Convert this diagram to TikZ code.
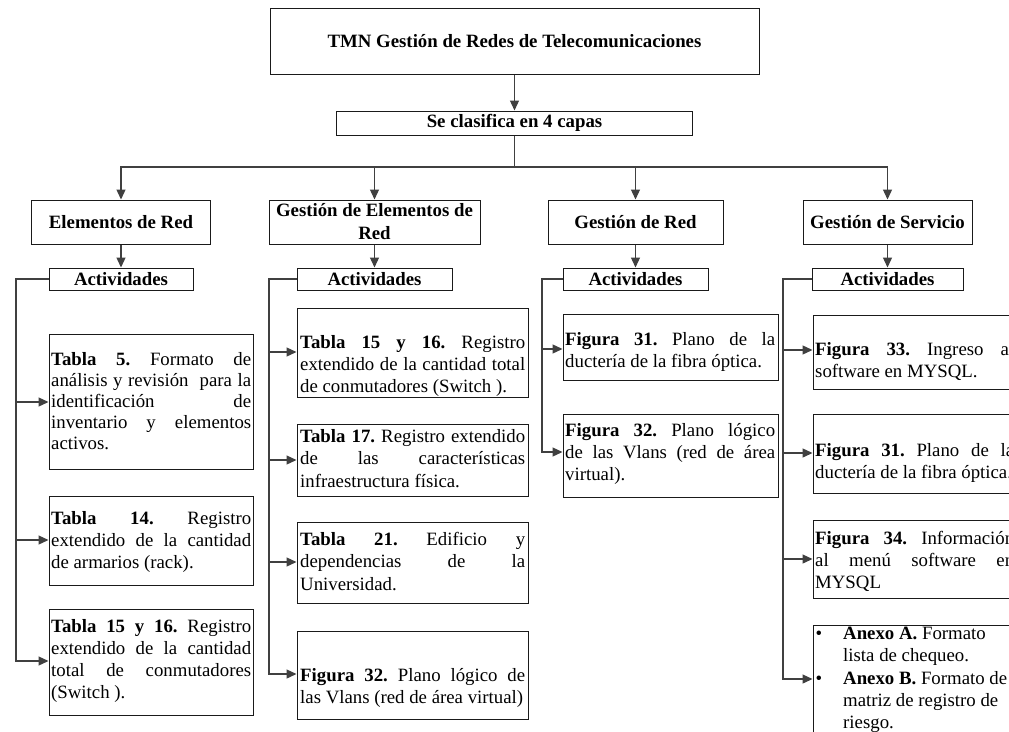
\documentclass[tikz,border=0pt]{standalone}
\usepackage{fontspec}
\setmainfont{Liberation Serif}
\usetikzlibrary{arrows.meta}

\definecolor{linkgray}{HTML}{404040}
\definecolor{edgeblack}{HTML}{1A1A1A}

% empty framed box given by its corners (x1,y1) and (x2,y2)
\newcommand\boxat[5]{%
  \node[box, minimum width={(#4-#2)*1pt}, minimum height={(#5-#3)*1pt}]
    (#1) at ({(#2+#4)/2},{(#3+#5)/2}) {};}
% normal, stretchable interword spaces inside a text block
\newcommand\np{\spaceskip=0pt\xspaceskip=0pt\relax}
% one fully justified line inside a text block
\newcommand\jl[1]{\makebox[\linewidth][s]{\np #1}\\}

\tikzset{
  box/.style={draw=edgeblack, line width=1pt, rectangle, inner sep=0pt},
  head/.style={box, font=\bfseries\fontsize{18.8}{23}\selectfont},
  txt/.style={anchor=base west, inner sep=0pt,
    font=\frenchspacing\fontsize{18.8}{22}\selectfont},
  line/.style={draw=linkgray, line width=1.3pt},
  conn/.style={line, -{Triangle[length=10pt,width=9pt]}},
}

\begin{document}
\begin{tikzpicture}[x=1pt,y=-1pt]
\useasboundingbox (0,0) rectangle (1009,731);
\fill[white] (0,0) rectangle (1009,731);
\clip (0,0) rectangle (1009,731);

% ---- top of the tree
\node[head, minimum width=489pt, minimum height=66pt] (top) at (514.5,41)
  {TMN Gestión de Redes de Telecomunicaciones};
\node[head, minimum width=356pt, minimum height=24pt] (se) at (514.5,123)
  {Se clasifica en 4 capas};

% ---- the four layers
\node[head, minimum width=179pt, minimum height=44pt] (l1) at (121,222) {Elementos de Red};
\node[head, minimum width=211pt, minimum height=44pt, text width=205pt]
  (l2) at (374.5,222) {\np\centering Gestión de Elementos de\\Red\par};
\node[head, minimum width=175pt, minimum height=44pt] (l3) at (635.5,222) {Gestión de Red};
\node[head, minimum width=169pt, minimum height=44pt] (l4) at (887.5,222) {Gestión de Servicio};

\node[head, minimum width=144pt, minimum height=22pt] (a1) at (121,279) {Actividades};
\node[head, minimum width=155pt, minimum height=22pt] (a2) at (374.5,279) {Actividades};
\node[head, minimum width=145pt, minimum height=22pt] (a3) at (635.5,279) {Actividades};
\node[head, minimum width=151pt, minimum height=22pt] (a4) at (887.5,279) {Actividades};

% ---- activity boxes
\boxat{b11}{49}{334}{253}{469}
\boxat{b12}{49}{496}{253}{585}
\boxat{b13}{49}{609}{253}{715}

\boxat{b21}{297}{308}{528}{397}
\boxat{b22}{297}{424}{528}{496}
\boxat{b23}{297}{522}{528}{603}
\boxat{b24}{297}{631}{528}{719}

\boxat{b31}{563}{314}{778}{380}
\boxat{b32}{563}{414}{778}{497}

\boxat{b41}{813}{315}{1017}{389}
\boxat{b42}{813}{414}{1017}{493}
\boxat{b43}{813}{520}{1017}{598}
\boxat{b44}{813}{625}{1017}{760}

% ---- texts of the activity boxes
\node[txt, text width=200pt, font=\frenchspacing\fontsize{18.8}{21}\selectfont] (t11) at (51,365)
  {\np\jl{\textbf{Tabla 5.} Formato de}\jl{análisis y revisión\ \ para la}\jl{identificación de}\jl{inventario y elementos}activos.};
\node[txt, text width=200pt] (t12) at (51,524)
  {\np\jl{\textbf{Tabla 14.} Registro}\jl{extendido de la cantidad}de armarios (rack).};
\node[txt, text width=200pt] (t13) at (51,632)
  {\np\jl{\textbf{Tabla 15 y 16.} Registro}\jl{extendido de la cantidad}\jl{total de conmutadores}(Switch ).};

\node[txt, text width=225pt] (t21) at (300,348)
  {\np\jl{\textbf{Tabla 15 y 16.} Registro}\jl{extendido de la cantidad total}de conmutadores (Switch ).};
\node[txt, text width=225pt, font=\frenchspacing\fontsize{18.8}{22.5}\selectfont] (t22) at (300,442)
  {\np\jl{\textbf{Tabla 17.} Registro extendido}\jl{de las características}infraestructura física.};
\node[txt, text width=225pt, font=\frenchspacing\fontsize{18.8}{22.5}\selectfont] (t23) at (300,545)
  {\np\jl{\textbf{Tabla 21.} Edificio y}\jl{dependencias de la}Universidad.};
\node[txt, text width=225pt] (t24) at (300,681)
  {\np\jl{\textbf{Figura 32.} Plano lógico de}las Vlans (red de área virtual)};

\node[txt, text width=210pt] (t31) at (565,345)
  {\np\jl{\textbf{Figura 31.} Plano de la}ductería de la fibra óptica.};
\node[txt, text width=210pt] (t32) at (565,436)
  {\np\jl{\textbf{Figura 32.} Plano lógico}\jl{de las Vlans (red de área}virtual).};

\node[txt, text width=199pt] (t41) at (815,355)
  {\np\jl{\textbf{Figura 33.} Ingreso al}software en MYSQL.};
\node[txt, text width=199pt] (t42) at (815,456)
  {\np\jl{\textbf{Figura 31.} Plano de la}ductería de la fibra óptica.};
\node[txt, text width=199pt] (t43) at (815,544)
  {\np\jl{\textbf{Figura 34.} Información}\jl{al menú software en}MYSQL};

\node[txt] (k1) at (815.5,639) {•};
\node[txt, text width=185pt] (t44a) at (843,639) {\np\textbf{Anexo A.} Formato\\lista de chequeo.};
\node[txt] (k2) at (815.5,684) {•};
\node[txt, text width=185pt] (t44b) at (843,684) {\np\textbf{Anexo B.} Formato de\\matriz de registro de\\riesgo.};

% ---- connectors of the upper levels
\coordinate (bus) at (514.5,167);
\draw[conn] (top.south) -- (se.north);
\draw[line] (se.south) -- (bus);
\foreach \n in {l1,l2,l3,l4} \draw[conn] (bus) -| (\n.north);
\foreach \i in {1,2,3,4} \draw[conn] (l\i.south) -- (a\i.north);

% ---- column 1
\coordinate (c11) at (16,402);
\coordinate (c12) at (16,540);
\coordinate (c13) at (16,661);
\draw[conn] (a1.west) -| (c13) -- (b13.west |- c13);
\draw[conn] (c11) -- (b11.west |- c11);
\draw[conn] (c12) -- (b12.west |- c12);

% ---- column 2
\coordinate (c21) at (269,352);
\coordinate (c22) at (269,460);
\coordinate (c23) at (269,562);
\coordinate (c24) at (269,674);
\draw[conn] (a2.west) -| (c24) -- (b24.west |- c24);
\draw[conn] (c21) -- (b21.west |- c21);
\draw[conn] (c22) -- (b22.west |- c22);
\draw[conn] (c23) -- (b23.west |- c23);

% ---- column 3
\coordinate (c31) at (542,349);
\coordinate (c32) at (542,452);
\draw[conn] (a3.west) -| (c32) -- (b32.west |- c32);
\draw[conn] (c31) -- (b31.west |- c31);

% ---- column 4
\coordinate (c41) at (783,350);
\coordinate (c42) at (783,453);
\coordinate (c43) at (783,559);
\coordinate (c44) at (783,679);
\draw[conn] (a4.west) -| (c44) -- (b44.west |- c44);
\draw[conn] (c41) -- (b41.west |- c41);
\draw[conn] (c42) -- (b42.west |- c42);
\draw[conn] (c43) -- (b43.west |- c43);
\end{tikzpicture}
\end{document}
